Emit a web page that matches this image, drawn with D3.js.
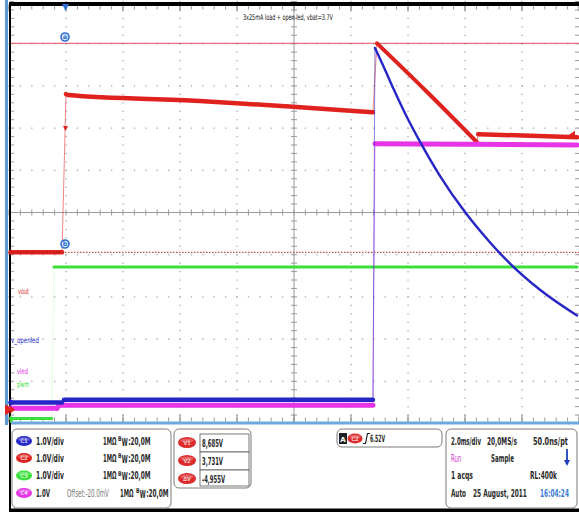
<!DOCTYPE html>
<html><head><meta charset="utf-8">
<script src="https://cdn.jsdelivr.net/npm/d3@7"></script>
<style>
html,body{margin:0;padding:0;background:#fff;}
svg{display:block;}
.t{font-family:"Liberation Sans Narrow","DejaVu Sans Condensed","Arial Narrow",sans-serif;font-weight:bold;font-size:10px;fill:#2a2a2a;}
.s{font-family:"Liberation Sans Narrow","DejaVu Sans Condensed","Arial Narrow",sans-serif;font-size:8px;}
</style></head><body>
<svg id="c" width="579" height="512"></svg>
<script>
// ---------- data (time in ms relative to trigger, values in volts) ----------
const title = "3x25mA load + open led, vbat=3.7V";
const voutData = [[-1.95,3.731],[-0.14,3.731],[0,7.48],[0.07,7.46],[4.70,7.32],[8.21,7.17],[10.77,7.05],[10.91,8.685],[12.67,7.53],[14.42,6.34],[14.46,6.53],[17.93,6.46]];
const openledData = [[-1.95,0],[-0.14,0],[-0.07,0.06],[10.77,0.06],[10.84,8.40],[11.19,7.89],[11.47,7.46],[11.89,6.86],[12.42,6.18],[13.12,5.37],[14.0,4.51],[14.88,3.79],[15.58,3.29],[16.63,2.67],[17.93,2.06]];
const pwmData = [[-1.95,0.02],[-0.5,0.02],[-0.42,3.61],[17.93,3.61]];
const vledData = [[-1.95,0.0],[-0.32,0.0],[-0.25,0.07],[10.77,0.07],[10.84,6.27],[17.93,6.24]];
const channelNames = ["C1","C2","C3","C4"];
const channelLabels = ["v_openled","vout","pwm","vled"];
const voltsPerDiv = [1.0,1.0,1.0,1.0];
const cursorValues = [8.685,3.731];   // V1, V2 on C2
const cursorText = ["8,685V","3,731V","-4,955V"];
const triggerLevel = 6.52;
const hTicksMs = d3.range(-2,18.01,2);   // 2.0 ms/div
const vTicksDiv = d3.range(-5,5.01,1);
const chRows = [["1.0V/div","","1MΩ"],["1.0V/div","","1MΩ"],["1.0V/div","","1MΩ"],["1.0V","Offset:-20.0mV","1MΩ"]];
const acqRows = [["2.0ms/div","20,0MS/s","50.0ns/pt"],["Run","Sample",""],["1 acqs","","RL:400k"],["Auto","25 August, 2011","16:04:24"]];

// ---------- layout ----------
const svg = d3.select("#c");
const X0=9, X1=579, Y0=1.5, Y1=423.5;
const x = d3.scaleLinear().domain([-2,18]).range([X0,X1]);
const y = d3.scaleLinear().domain([-5,5]).range([Y1,Y0]);
const groundDiv = {C1:-4.5, C2:-4.675, C3:-4.9, C4:-4.64};
const col = {C1:"#2626c8", C2:"#e0221e", C3:"#3ae03a", C4:"#e634e6"};
const yc = (ch,v,i)=> y(v/voltsPerDiv[i]+groundDiv[ch]);

// text squeezed horizontally to a target width
function txt(sel, cls, xx, yy, s, w, fs){
  const t = sel.append("text").attr("class",cls).attr("x",0).attr("y",0).text(s);
  if(fs) t.style("font-size",fs);
  let sx = 1;
  if(w){ const L = t.node().getComputedTextLength(); if(L>0) sx = w/L; }
  t.attr("transform",`translate(${xx},${yy}) scale(${sx},1)`);
  return t;
}

// graticule
const g = svg.append("g");
const minorX = d3.range(-2,18.001,0.4), minorY = d3.range(-5,5.001,0.2);
hTicksMs.forEach(t=>{
  if(t===-2||t===18||t===8) return;
  minorY.forEach(d=>g.append("rect").attr("x",x(t)-0.6).attr("y",y(d)-0.6).attr("width",1.3).attr("height",1.3).attr("fill","#a8a8a8"));
});
vTicksDiv.forEach(d=>{
  if(d===-5||d===5||d===0) return;
  minorX.forEach(t=>g.append("rect").attr("x",x(t)-0.6).attr("y",y(d)-0.6).attr("width",1.3).attr("height",1.3).attr("fill","#a8a8a8"));
});
g.append("line").attr("x1",X0).attr("x2",X1).attr("y1",y(0)).attr("y2",y(0)).attr("stroke","#9a9a9a");
g.append("line").attr("x1",x(8)).attr("x2",x(8)).attr("y1",Y0).attr("y2",Y1).attr("stroke","#9a9a9a");
minorX.forEach(t=>{
  g.append("line").attr("x1",x(t)).attr("x2",x(t)).attr("y1",y(0)-3).attr("y2",y(0)+3).attr("stroke","#9a9a9a");
  g.append("line").attr("x1",x(t)).attr("x2",x(t)).attr("y1",Y0+4).attr("y2",Y0+8).attr("stroke","#9a9a9a");
  g.append("line").attr("x1",x(t)).attr("x2",x(t)).attr("y1",Y1-6).attr("y2",Y1-2).attr("stroke","#9a9a9a");
});
minorY.forEach(d=>{
  g.append("line").attr("y1",y(d)).attr("y2",y(d)).attr("x1",x(8)-3).attr("x2",x(8)+3).attr("stroke","#9a9a9a");
  g.append("line").attr("y1",y(d)).attr("y2",y(d)).attr("x1",X1-4).attr("x2",X1).attr("stroke","#9a9a9a");
  g.append("line").attr("y1",y(d)).attr("y2",y(d)).attr("x1",X0+1).attr("x2",X0+5).attr("stroke","#9a9a9a");
});
hTicksMs.forEach(t=>{
  g.append("line").attr("x1",x(t)).attr("x2",x(t)).attr("y1",Y0+3).attr("y2",Y0+10).attr("stroke","#8a8a8a");
  g.append("line").attr("x1",x(t)).attr("x2",x(t)).attr("y1",Y1-9).attr("y2",Y1-1).attr("stroke","#8a8a8a");
});

// frame
svg.append("rect").attr("x",5).attr("y",0).attr("width",3).attr("height",425).attr("fill","#5b9bd5");
svg.append("rect").attr("x",X0).attr("y",2).attr("width",X1-X0).attr("height",4).attr("fill","#000");
svg.append("rect").attr("x",X0).attr("y",421.5).attr("width",X1-X0).attr("height",3).attr("fill","#6fa8dc");
svg.append("rect").attr("x",X0).attr("y",2).attr("width",2).attr("height",510).attr("fill","#000");
svg.append("rect").attr("x",X0).attr("y",508.5).attr("width",X1-X0).attr("height",4).attr("fill","#000");

// title
txt(svg,"s",243,20,title,90).attr("fill","#111");

// cursors
svg.append("line").attr("x1",X0+2).attr("x2",X1).attr("y1",yc("C2",cursorValues[0],1)).attr("y2",yc("C2",cursorValues[0],1)).attr("stroke","#e0505a").attr("stroke-width",1);
svg.append("line").attr("x1",X0+2).attr("x2",X1).attr("y1",yc("C2",cursorValues[1],1)).attr("y2",yc("C2",cursorValues[1],1)).attr("stroke","#b02828").attr("stroke-width",1).attr("stroke-dasharray","1.5,1.5");

// traces: fast edges thin, other runs smooth thick paths
function drawTrace(data, ch, i, wFlat, wSteep){
  const gg = svg.append("g");
  const pts = data.map(d=>[x(d[0]), yc(ch,d[1],i)]);
  let run=[pts[0]], runSteep=null;
  const flush=()=>{
    if(run.length>1) gg.append("path").attr("d",d3.line().curve(d3.curveMonotoneX)(run))
      .attr("fill","none").attr("stroke",col[ch]).attr("stroke-width",runSteep?wSteep:wFlat)
      .attr("stroke-linecap","round").attr("stroke-linejoin","round");
  };
  for(let k=0;k<pts.length-1;k++){
    const a=pts[k], b=pts[k+1];
    const dx=Math.abs(b[0]-a[0]), dy=Math.abs(b[1]-a[1]);
    const edge = dx<6 && dy>4;
    if(edge){
      flush();
      gg.append("line").attr("x1",a[0]).attr("y1",a[1]).attr("x2",b[0]).attr("y2",b[1])
        .attr("stroke",col[ch]).attr("stroke-opacity",ch==="C3"?0.15:0.55).attr("stroke-width",1);
      run=[b]; runSteep=null; continue;
    }
    const steep = dy/Math.max(dx,0.01) > 0.5;
    if(runSteep!==null && steep!==runSteep){ flush(); run=[a]; }
    runSteep=steep; run.push(b);
  }
  flush();
}
drawTrace(pwmData,"C3",2,3,3);
drawTrace(voutData,"C2",1,4.5,4);
drawTrace(vledData,"C4",3,5,5);
drawTrace(openledData,"C1",0,4.5,2.4);
svg.append("line").attr("x1",X0+2).attr("x2",x(-0.14)).attr("y1",yc("C2",cursorValues[1],1)).attr("y2",yc("C2",cursorValues[1],1)).attr("stroke","#a01818").attr("stroke-width",1).attr("stroke-dasharray","1.5,1.5");

// cursor badges
function badge(cx,cy,letter){
  svg.append("circle").attr("cx",cx).attr("cy",cy).attr("r",4.8).attr("fill","#2f6fd0");
  svg.append("circle").attr("cx",cx).attr("cy",cy).attr("r",3.2).attr("fill","#dbe8fb");
  svg.append("text").attr("x",cx).attr("y",cy+2.3).attr("text-anchor","middle").attr("font-family","DejaVu Sans").attr("font-size","6.5px").attr("font-weight","bold").attr("fill","#2f6fd0").text(letter);
}
badge(x(0)-1,37,"a");
badge(x(0)-1,244,"b");

// trigger markers
svg.append("path").attr("d",`M${x(0)-4},4 L${x(0)+3},4 L${x(0)-0.5},11 Z`).attr("fill","#2f6fd0");
svg.append("path").attr("d",`M${x(0)-3},126 L${x(0)+2},126 L${x(0)-0.5},131 Z`).attr("fill","#e0221e");
const ty = yc("C2",triggerLevel,1);
svg.append("path").attr("d",`M${X1-10},${ty} L${X1-4},${ty-4} L${X1-4},${ty+4} Z`).attr("fill","#e0221e");

// ground markers
channelNames.forEach((ch,i)=>{
  const gy = yc(ch,0,i);
  if(ch==="C4") return;
  svg.append("path").attr("d",`M${X0+1},${gy-4} L${X0+6},${gy} L${X0+1},${gy+4} Z`).attr("fill",col[ch]);
});
svg.append("path").attr("d",`M5,${yc("C2",0,1)-5} A5,5 0 0,1 5,${yc("C2",0,1)+5} Z`).attr("fill","#e0221e");

// channel labels in plot
const labelPos = {C1:[11,343,28],C2:[18,294,11],C3:[17,387,12],C4:[17,374,11]};
channelNames.forEach((ch,i)=>{
  txt(svg,"s",labelPos[ch][0],labelPos[ch][1],channelLabels[i],labelPos[ch][2]).attr("fill",col[ch]);
});

// ---------- bottom panels ----------
const pb = svg.append("g");
function panel(x0,y0,w,h){ pb.append("rect").attr("x",x0).attr("y",y0).attr("width",w).attr("height",h).attr("rx",5).attr("fill","#fff").attr("stroke","#7a7a7a").attr("stroke-width",1); }
function pill(cx,cy,rx,ry,fill,label){
  pb.append("ellipse").attr("cx",cx).attr("cy",cy).attr("rx",rx).attr("ry",ry).attr("fill",fill);
  pb.append("ellipse").attr("cx",cx).attr("cy",cy-ry*0.35).attr("rx",rx*0.75).attr("ry",ry*0.4).attr("fill","#fff").attr("opacity",0.25);
  pb.append("text").attr("x",cx).attr("y",cy+2.2).attr("text-anchor","middle").attr("font-family","DejaVu Sans Condensed,DejaVu Sans").attr("font-size","6px").attr("fill","#fff").text(label);
}
panel(12,429,159,79);
const rowY=[441,458,475.5,493];
channelNames.forEach((ch,i)=>{
  pill(24,rowY[i],8,5,col[ch],ch);
  const r=chRows[i];
  const by=rowY[i]+3.5;
  txt(pb,"t",36,by,r[0],i===3?14:28);
  const x1m = i===3?120:103, xbw = i===3?136:118;
  if(r[1]) txt(pb,"t",67,by,r[1],47).style("fill","#777").style("font-weight","normal");
  txt(pb,"t",x1m,by,r[2],13.5);
  txt(pb,"t",xbw,by-3.5,"B",3.6,"6.5px");
  txt(pb,"t",xbw+3.8,by+1,"W",6);
  txt(pb,"t",xbw+10.2,by,":20,0M",22.5);
});
panel(174,429,77,59);
const clab=["V1","V2","ΔV"];
[434,452,470].forEach((yy,i)=>{
  pb.append("rect").attr("x",200).attr("y",yy).attr("width",49).attr("height",i===2?16:18).attr("fill","#fff").attr("stroke","#555").attr("stroke-width",0.8);
  pill(187,yy+8.5,9,5.5,"#dd2a2a",clab[i]);
  txt(pb,"t",202,yy+12.5,cursorText[i],i===2?23:21);
});
panel(337,429,105,18);
pb.append("rect").attr("x",339).attr("y",433).attr("width",8).attr("height",11).attr("fill","#222");
pb.append("text").attr("x",343).attr("y",441.5).attr("text-anchor","middle").attr("font-family","DejaVu Sans").attr("font-size","7px").attr("font-weight","bold").attr("fill","#fff").text("A");
pill(355,438.5,7.5,5,"#dd2a2a","C2");
pb.append("path").attr("d","M363,443.5 L365.5,443.5 L367.5,433.5 L370,433.5").attr("fill","none").attr("stroke","#222").attr("stroke-width",1.2);
txt(pb,"t",370,442,triggerLevel.toFixed(2)+"V",15);
panel(446,429,131,79);
const acqX=[[451,487,533],[451,491,0],[451,0,530],[451,473,540]];
const acqW=[[30,30,35],[12,23,0],[22,0,27],[15,54,29]];
acqRows.forEach((r,i)=>{
  r.forEach((s,j)=>{
    if(!s) return;
    const tt = txt(pb,"t",acqX[i][j],rowY[i]+3.5,s,acqW[i][j]);
    if(i===1&&j===0) tt.style("fill","#d23cd2").style("font-weight","normal");
    if(i===3&&j===2) tt.style("fill","#3a7bd5");
  });
});
pb.append("line").attr("x1",567).attr("x2",567).attr("y1",449).attr("y2",462).attr("stroke","#1f3fbf").attr("stroke-width",1.8);
pb.append("path").attr("d","M564,460 L570,460 L567,466 Z").attr("fill","#1f3fbf");
</script>
</body></html>
